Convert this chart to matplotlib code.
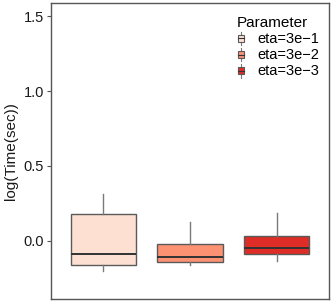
import matplotlib
matplotlib.use("Agg")
import matplotlib.pyplot as plt
from matplotlib.patches import Rectangle
from matplotlib.lines import Line2D
from matplotlib.legend_handler import HandlerBase

# box statistics (log seconds)
labels = ["eta=3e\u22121", "eta=3e\u22122", "eta=3e\u22123"]
colors = ["#FEE0D2", "#FC9272", "#DE2D26"]
whislo = [-0.20, -0.16, -0.133]
q1 = [-0.16, -0.14, -0.087]
med = [-0.087, -0.104, -0.049]
q3 = [0.178, -0.018, 0.036]
whishi = [0.311, 0.124, 0.189]

plt.rcParams['font.family'] = ['Liberation Sans', 'DejaVu Sans']

fig = plt.figure(figsize=(3.32, 3.05), dpi=100)
ax = fig.add_axes([51 / 332, 6 / 305, 278 / 332, 296 / 305])

stats = []
for i in range(3):
    stats.append(dict(whislo=whislo[i], q1=q1[i], med=med[i], q3=q3[i],
                      whishi=whishi[i], fliers=[]))

edge = "#5a5a5a"
bp = ax.bxp(stats, positions=[1, 2, 3], widths=0.75, patch_artist=True,
            showcaps=False,
            boxprops=dict(edgecolor=edge, linewidth=1.0),
            whiskerprops=dict(color="#7a7a7a", linewidth=1.0),
            medianprops=dict(color="#333333", linewidth=1.4))
for patch, c in zip(bp['boxes'], colors):
    patch.set_facecolor(c)

ax.set_xlim(0.4, 3.6)
ax.set_ylim(-0.387, 1.587)
ax.set_xticks([])
ax.set_yticks([0.0, 0.5, 1.0, 1.5])
ax.set_yticklabels(["0.0", "0.5", "1.0", "1.5"])
ax.tick_params(axis='y', length=3, color="#555555", labelsize=10.5,
               labelcolor="#1a1a1a", pad=2)
for s in ax.spines.values():
    s.set_color("#555555")
    s.set_linewidth(1.0)
ax.set_ylabel("log(Time(sec))", fontsize=11, color="#1a1a1a", labelpad=4)


class BoxKey(HandlerBase):
    def create_artists(self, legend, orig, xd, yd, w, h, fontsize, trans):
        cx = xd + w / 2
        cy = yd + h / 2
        bw, bh = w * 0.7, h * 0.75
        l1 = Line2D([cx, cx], [cy - h * 0.75, cy + h * 0.75], color="#7a7a7a",
                    lw=0.8, transform=trans)
        r = Rectangle((cx - bw / 2, cy - bh / 2), bw, bh,
                      facecolor=orig.get_facecolor(), edgecolor=edge, lw=0.8,
                      transform=trans)
        l2 = Line2D([cx - bw / 2, cx + bw / 2], [cy, cy], color="#333333",
                    lw=0.8, transform=trans)
        return [l1, r, l2]


handles = [Rectangle((0, 0), 1, 1, facecolor=c) for c in colors]
leg = ax.legend(handles, labels, title="Parameter", loc="upper right",
                bbox_to_anchor=(1.0, 0.992), frameon=False, fontsize=10.5,
                title_fontsize=11, handler_map={Rectangle: BoxKey()},
                handlelength=0.55, handleheight=0.6, handletextpad=0.8,
                labelspacing=0.14, alignment="left", borderaxespad=0.3)

fig.savefig("out.png", dpi=100)
